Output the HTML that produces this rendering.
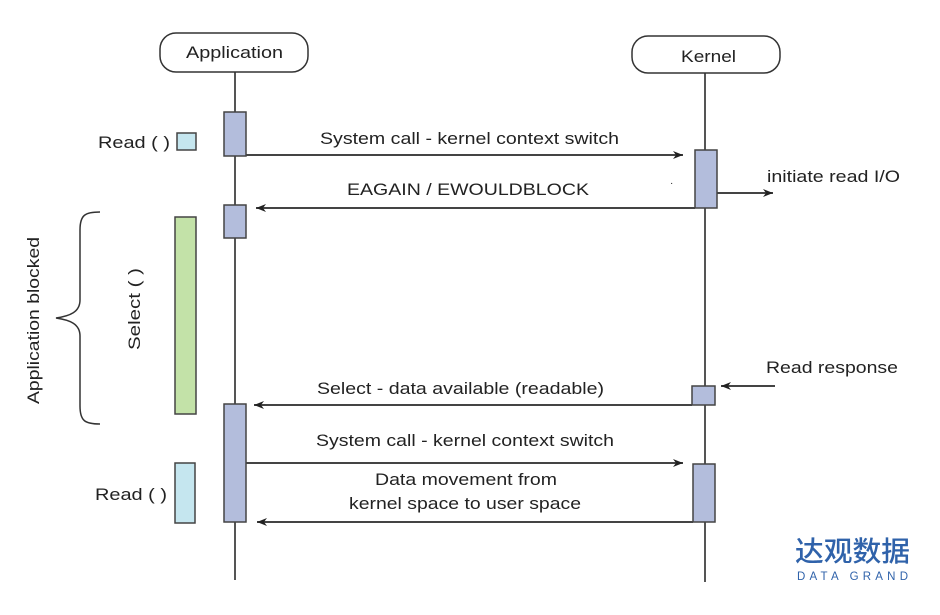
<!DOCTYPE html>
<html><head><meta charset="utf-8"><style>
body{margin:0;background:#fff;}
svg text{font-family:"Liberation Sans",Arial,sans-serif;fill:#222;}
</style></head><body>
<svg width="940" height="610" viewBox="0 0 940 610" xmlns="http://www.w3.org/2000/svg">
<defs><marker id="a" viewBox="0 0 10 10" refX="10" refY="5" markerWidth="12" markerHeight="10" markerUnits="userSpaceOnUse" orient="auto"><path d="M0,1 L10,5 L0,9 L3,5z" fill="#222"/></marker></defs>
<g stroke="#555" stroke-width="2" fill="none">
<line x1="235" y1="72" x2="235" y2="580"/>
<line x1="705" y1="73" x2="705" y2="582"/>
</g>
<rect x="160" y="33" width="148" height="39" rx="16" fill="#fff" stroke="#333" stroke-width="1.5"/>
<rect x="632" y="36" width="148" height="37" rx="16" fill="#fff" stroke="#333" stroke-width="1.5"/>
<g font-size="17" lengthAdjust="spacingAndGlyphs">
<text x="186" y="58" textLength="97" lengthAdjust="spacingAndGlyphs">Application</text>
<text x="681" y="62" textLength="55" lengthAdjust="spacingAndGlyphs">Kernel</text>
</g>
<g stroke="#444" stroke-width="2" fill="none">
<line x1="246" y1="155" x2="683" y2="155" marker-end="url(#a)"/>
<line x1="695" y1="208" x2="256" y2="208" marker-end="url(#a)"/>
<line x1="717" y1="193" x2="773" y2="193" marker-end="url(#a)"/>
<line x1="775" y1="386" x2="721" y2="386" marker-end="url(#a)"/>
<line x1="692" y1="405" x2="254" y2="405" marker-end="url(#a)"/>
<line x1="246" y1="463" x2="683" y2="463" marker-end="url(#a)"/>
<line x1="693" y1="522" x2="257" y2="522" marker-end="url(#a)"/>
</g>
<g fill="#b3bddc" stroke="#444" stroke-width="1.5">
<rect x="224" y="112" width="22" height="44"/>
<rect x="224" y="205" width="22" height="33"/>
<rect x="224" y="404" width="22" height="118"/>
<rect x="695" y="150" width="22" height="58"/>
<rect x="692" y="386" width="23" height="19"/>
<rect x="693" y="464" width="22" height="58"/>
</g>
<rect x="177" y="133" width="19" height="17" fill="#c5e6ef" stroke="#444" stroke-width="1.5"/>
<rect x="175" y="217" width="21" height="197" fill="#c3e2a8" stroke="#444" stroke-width="1.5"/>
<rect x="175" y="463" width="20" height="60" fill="#c5e6ef" stroke="#444" stroke-width="1.5"/>
<path d="M100,212 C85,212 80,215 80,230 L80,300 C80,312 70,316 56,318 C70,320 80,324 80,336 L80,406 C80,421 85,424 100,424" fill="none" stroke="#333" stroke-width="1.5"/>
<g font-size="17">
<text x="320" y="144" textLength="299" lengthAdjust="spacingAndGlyphs">System call - kernel context switch</text>
<text x="347" y="195" textLength="242" lengthAdjust="spacingAndGlyphs">EAGAIN / EWOULDBLOCK</text>
<text x="767" y="182" textLength="133" lengthAdjust="spacingAndGlyphs">initiate read I/O</text>
<text x="766" y="373" textLength="132" lengthAdjust="spacingAndGlyphs">Read response</text>
<text x="317" y="394" textLength="287" lengthAdjust="spacingAndGlyphs">Select - data available (readable)</text>
<text x="316" y="446" textLength="298" lengthAdjust="spacingAndGlyphs">System call - kernel context switch</text>
<text x="375" y="485" textLength="182" lengthAdjust="spacingAndGlyphs">Data movement from</text>
<text x="349" y="509" textLength="232" lengthAdjust="spacingAndGlyphs">kernel space to user space</text>
<text x="98" y="148" textLength="72" lengthAdjust="spacingAndGlyphs">Read ( )</text>
<text x="95" y="500" textLength="72" lengthAdjust="spacingAndGlyphs">Read ( )</text>
<text transform="translate(39,404) rotate(-90)" textLength="167" lengthAdjust="spacingAndGlyphs">Application blocked</text>
<text transform="translate(140,350) rotate(-90)" textLength="82" lengthAdjust="spacingAndGlyphs">Select ( )</text>
</g>
<text x="670" y="186" font-size="10">·</text>
<text x="795" y="561" font-size="28" textLength="115" lengthAdjust="spacingAndGlyphs" style="fill:#2f62aa;font-family:'Noto Sans CJK SC',sans-serif;font-weight:500">达观数据</text>
<text x="797" y="580" font-size="11.5" textLength="111" lengthAdjust="spacing" style="fill:#2f62aa">DATA GRAND</text>
</svg>
</body></html>
